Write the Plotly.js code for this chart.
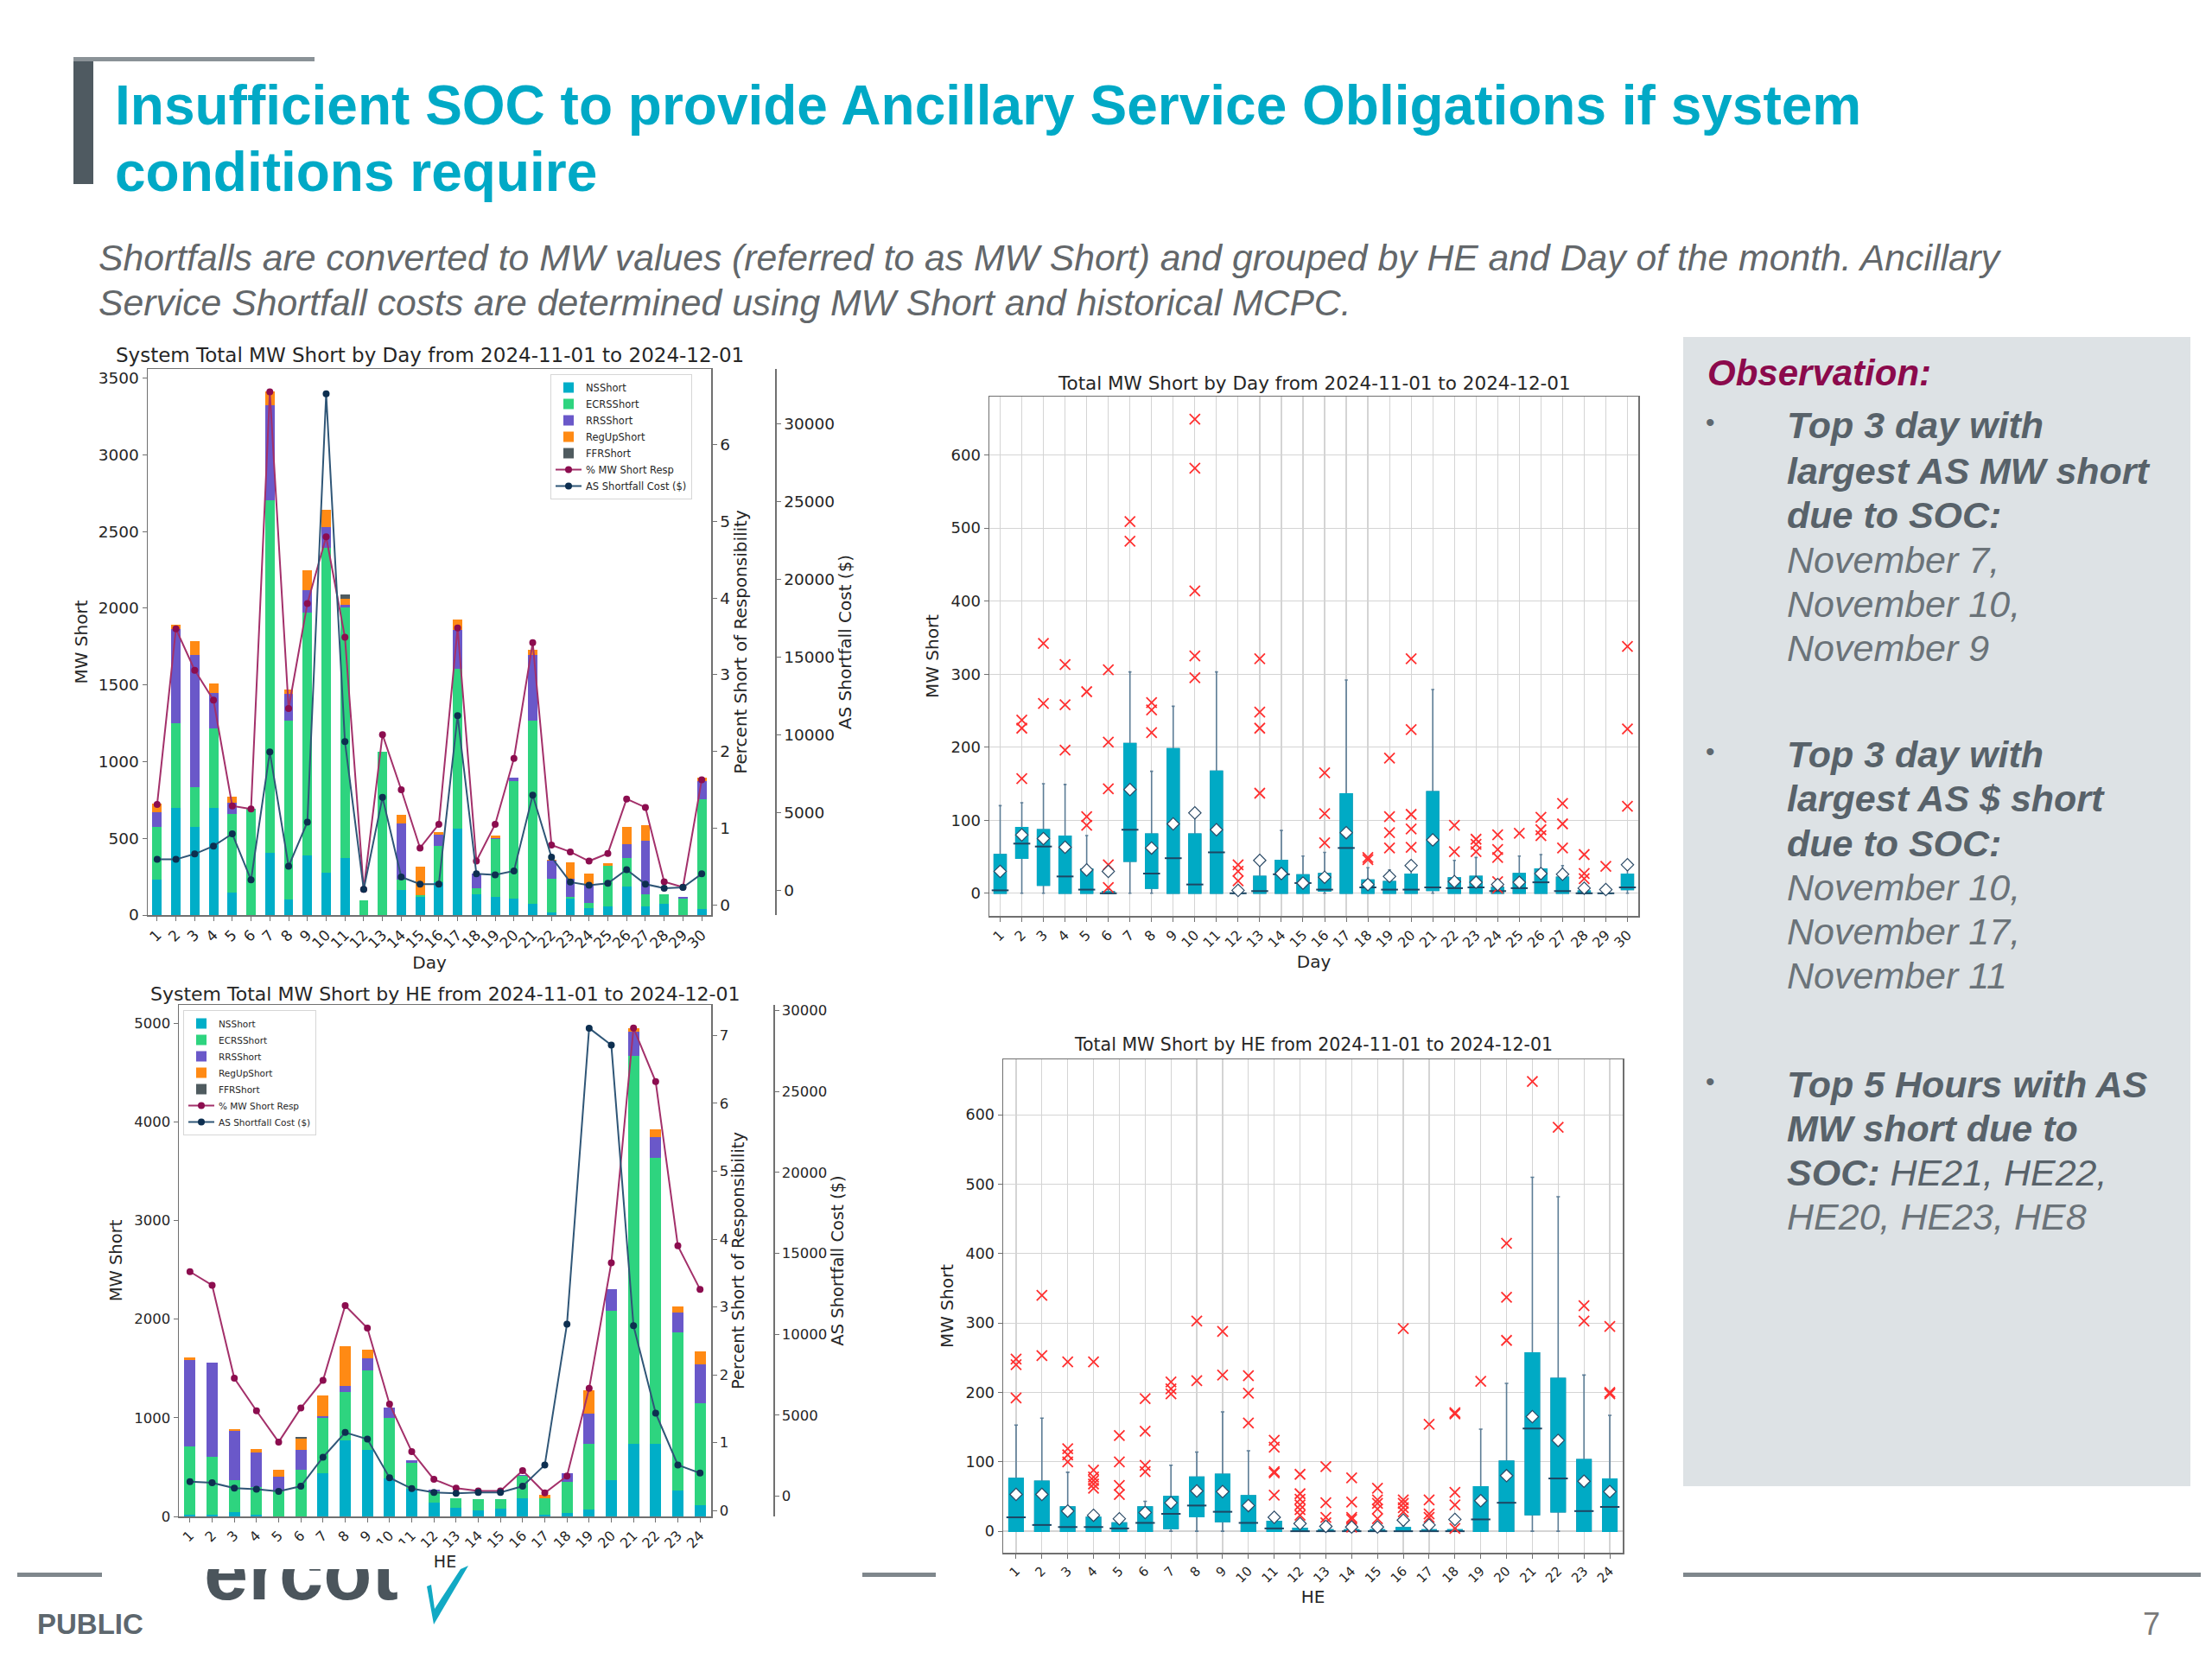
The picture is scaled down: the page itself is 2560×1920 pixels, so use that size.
<!DOCTYPE html>
<html><head><meta charset="utf-8">
<script src="https://cdn.plot.ly/plotly-3.0.1.min.js"></script>
<style>html,body{margin:0;padding:0;background:#fff}#chart{width:2560px;height:1920px}</style>
</head><body><div id="chart"></div>
<script>
// ---------- DATA: by Day ----------
const days = [1,2,3,4,5,6,7,8,9,10,11,12,13,14,15,16,17,18,19,20,21,22,23,24,25,26,27,28,29,30];
const dayNS    = [229,700,573,700,148,0,404,100,390,277,369,0,0,162,121,215,565,135,116,108,73,19,108,46,54,188,54,73,0,40];
const dayECRS  = [344,552,262,517,512,692,2302,1165,1583,2119,1636,94,1063,67,6,235,1042,40,377,767,1192,215,13,35,269,181,81,62,108,714];
const dayRRS   = [100,614,861,232,72,0,619,175,146,135,15,0,0,369,0,75,251,94,10,19,431,121,113,116,0,94,350,0,13,121];
const dayRegUp = [52,24,89,59,41,0,86,33,129,113,40,0,0,54,191,13,67,0,14,0,33,8,108,72,14,110,99,0,0,19];
const dayFFR   = [0,0,0,0,0,0,0,0,0,0,30,0,0,0,0,0,0,0,0,0,0,0,0,0,0,0,0,0,0,0];
const dayPct   = [1.31,3.60,3.06,2.67,1.29,1.25,6.69,2.56,3.93,4.80,3.49,0.20,2.22,1.50,0.74,1.05,3.61,0.57,1.05,1.91,3.42,0.78,0.69,0.57,0.67,1.38,1.27,0.30,0.23,1.63];
const dayCost  = [1990,1990,2340,2850,3640,670,8900,1550,4390,31950,9570,60,5980,860,400,400,11240,1060,990,1250,6120,2130,530,330,450,1330,400,140,190,1060];

// ---------- DATA: by HE ----------
const hes = [1,2,3,4,5,6,7,8,9,10,11,12,13,14,15,16,17,18,19,20,21,22,23,24];
const heNS    = [20,20,47,20,0,0,439,773,675,384,282,137,86,59,78,188,20,31,71,365,737,737,267,118];
const heECRS  = [686,580,318,274,255,471,561,490,807,616,259,118,102,117,98,224,168,322,666,1721,3930,2898,1596,1027];
const heRRS   = [882,961,498,353,145,204,20,62,118,106,28,20,0,0,0,10,0,86,302,220,247,208,208,396];
const heRegUp = [20,0,19,39,71,117,204,400,94,0,0,0,0,0,0,0,28,0,236,0,35,79,58,134];
const heFFR   = [0,0,0,0,0,10,0,0,0,0,0,0,0,0,0,0,0,0,0,0,0,0,0,0];
const hePct   = [3.52,3.32,1.95,1.47,1.01,1.51,1.92,3.02,2.69,1.57,0.87,0.46,0.33,0.29,0.29,0.59,0.26,0.51,1.80,3.65,7.11,6.32,3.90,3.26];
const heCost  = [910,835,500,433,311,622,2413,3941,3533,1146,476,238,189,238,238,622,1938,10630,28900,27850,10530,5135,1938,1432];

// ---------- DATA: box stats by Day ----------
const dayQ1   = [0,48,11,0,0,0,44,7,0,0,0,0,0,0,0,3,0,0,0,0,4,0,0,0,0,0,0,0,0,5];
const dayMed  = [4,68,64,23,5,0,87,27,48,12,56,0,3,26,14,5,62,8,5,5,8,7,8,3,7,15,3,0,0,8];
const dayQ3   = [53,90,87,78,33,2,205,81,198,81,167,0,23,45,25,27,136,18,16,26,139,21,23,8,27,33,22,3,0,26];
const dayLo   = [0,0,0,0,0,0,0,0,0,0,0,0,0,0,0,0,0,0,0,0,0,0,0,0,0,0,0,0,0,0];
const dayHi   = [120,124,150,149,79,5,303,167,256,104,303,0,41,86,51,56,292,35,32,44,279,45,49,15,51,53,38,5,0,40];
const dayMean = [30,80,75,63,32,30,142,62,95,110,87,4,45,27,14,22,83,12,23,38,73,16,15,12,15,27,26,7,5,39];
const dayOutliers = [[],[237,226,157],[342,260],[313,258,196],[276,105,93],[306,207,143,39,8],[509,482],[261,251,220],[],[649,582,414,325,295],
  [],[39,30,17],[321,248,226,137],[],[],[165,109,69],[],[49,46],[185,105,83,62],[321,224,108,88,63],
  [],[93,57],[74,67,57],[80,60,49,16,7],[82],[104,87,79],[123,95,62],[53,27,20],[37],[338,225,119]];

// ---------- DATA: box stats by HE ----------
const heQ1   = [0,0,0,0,0,0,4,21,14,0,0,0,0,0,0,0,0,0,0,0,24,28,0,0];
const heMed  = [20,9,6,6,4,12,25,37,28,12,4,0,0,0,0,0,0,0,17,41,148,76,29,35];
const heQ3   = [76,72,35,20,12,35,50,78,82,51,14,4,2,2,2,5,2,2,64,101,257,220,103,75];
const heLo   = [0,0,0,0,0,0,0,0,0,0,0,0,0,0,0,0,0,0,0,0,0,0,0,0];
const heHi   = [153,163,85,27,16,43,95,114,172,116,18,6,4,4,4,8,4,4,147,213,510,482,225,167];
const heMean = [53,53,29,23,18,27,41,58,57,37,20,11,7,6,6,16,9,17,44,80,165,131,72,57];
const heOutliers = [[248,240,192],[340,253],[244,119,110,100],[244,88,78,73,68,62],[138,100,66,53],[191,144,95,86],[215,205,198],[303,217],[288,225],[224,199,156],
  [131,121,86,84,52],[82,54,46,38,31,23],[93,41,20,12],[77,42,20,17,6],[62,45,40,32,18],[292,45,40,34,28],[154,45,25,20],[171,169,56,38,4],[216],[415,337,275],
  [648],[582],[325,303],[295,200,198]];

const stackNames = ['NSShort','ECRSShort','RRSShort','RegUpShort','FFRShort'];

// ---------- STYLE ----------
const W = 2560, H = 1920;
const px = v => v / W, py = v => 1 - v / H;
const stackColors = ['#00aec8','#2ed47f','#6a58c9','#ff8a14','#4f5b5f'];
const pctColor = '#a3306a', pctMarker = '#8c0d4f';
const costColor = '#2f5677', costMarker = '#0d2f50';
const boxFill = '#00aac5';
const txt = '#262626';
const axLine = '#707070';
const FF = 'DejaVu Sans';

const traces = [];
function addStack(xa, ya, pos, stacks, legend) {
  stacks.forEach((arr, i) => traces.push({
    type: 'bar', x: pos, y: arr, name: stackNames[i], width: 0.5,
    marker: {color: stackColors[i], line: {width: 0}},
    xaxis: xa, yaxis: ya, legend: legend
  }));
}
function addLines(xa, yPct, yCost, pos, pct, cost, legend) {
  traces.push({type: 'scatter', mode: 'lines+markers', x: pos, y: pct, name: '% MW Short Resp',
    line: {color: pctColor, width: 2}, marker: {color: pctMarker, size: 8}, xaxis: xa, yaxis: yPct, legend: legend});
  traces.push({type: 'scatter', mode: 'lines+markers', x: pos, y: cost, name: 'AS Shortfall Cost ($)',
    line: {color: costColor, width: 2}, marker: {color: costMarker, size: 8}, xaxis: xa, yaxis: yCost, legend: legend});
}
function addBoxes(xa, ya, pos, q1, med, q3, lo, hi, mean, outs, medSize) {
  traces.push({type: 'box', orientation: 'v', x: pos, q1: q1, median: med, q3: q3, lowerfence: lo, upperfence: hi,
    width: 0.55, fillcolor: boxFill, line: {color: '#5d7d96', width: 1.6}, whiskerwidth: 0.25,
    boxpoints: false, showlegend: false, xaxis: xa, yaxis: ya, hoverinfo: 'skip'});
  traces.push({type: 'box', orientation: 'v', x: pos, q1: q1, median: med, q3: q3, lowerfence: q1, upperfence: q3,
    width: 0.55, fillcolor: boxFill, line: {color: boxFill, width: 1.6}, whiskerwidth: 0,
    boxpoints: false, showlegend: false, xaxis: xa, yaxis: ya, hoverinfo: 'skip'});
  traces.push({type: 'scatter', mode: 'markers', x: pos, y: med, showlegend: false, xaxis: xa, yaxis: ya,
    marker: {symbol: 'line-ew', size: medSize, line: {color: '#1e4663', width: 2}}});
  const ox = [], oy = [];
  outs.forEach((list, i) => list.forEach(v => { ox.push(pos[i]); oy.push(v); }));
  traces.push({type: 'scatter', mode: 'markers', x: ox, y: oy, showlegend: false, xaxis: xa, yaxis: ya,
    marker: {symbol: 'x-thin', size: 12, color: '#ff3030', line: {color: '#ff3030', width: 1.8}}});
  traces.push({type: 'scatter', mode: 'markers', x: pos, y: mean, showlegend: false, xaxis: xa, yaxis: ya,
    marker: {symbol: 'diamond', size: 11, color: '#ffffff', line: {color: '#2b4a66', width: 1.2}}});
}

addStack('x', 'y', days, [dayNS, dayECRS, dayRRS, dayRegUp, dayFFR], 'legend');
addLines('x', 'y2', 'y3', days, dayPct, dayCost, 'legend');
addBoxes('x2', 'y4', days, dayQ1, dayMed, dayQ3, dayLo, dayHi, dayMean, dayOutliers, 14);
addStack('x3', 'y5', hes, [heNS, heECRS, heRRS, heRegUp, heFFR], 'legend2');
addLines('x3', 'y6', 'y7', hes, hePct, heCost, 'legend2');
addBoxes('x4', 'y8', hes, heQ1, heMed, heQ3, heLo, heHi, heMean, heOutliers, 16);
// logo word placed on a hidden pixel-space subplot so its top can be masked like the reference
traces.push({type: 'scatter', mode: 'text', x: [236], y: [1828], text: ['<b>ercot</b>'], textposition: 'middle right',
  textfont: {family: 'Liberation Sans, Arial, sans-serif', size: 92, color: '#4b555c'}, showlegend: false, xaxis: 'x5', yaxis: 'y9', hoverinfo: 'skip'});

function xAx(d, rng, vals, title, tsize, lsize, grid, standoff) {
  const t = {text: title, font: {family: FF, size: lsize, color: txt}};
  if (standoff !== undefined) t.standoff = standoff;
  return {domain: d, range: rng, tickvals: vals, ticktext: vals.map(String), tickangle: -45,
    tickfont: {family: FF, size: tsize, color: txt}, ticks: 'outside', ticklen: 5, tickcolor: axLine,
    showline: true, linecolor: axLine, linewidth: 1.5, mirror: true, zeroline: false,
    showgrid: grid, gridcolor: '#d4d4d4', gridwidth: 1.2, automargin: false, title: t};
}
function yAx(extra, tsize, lsize, title, standoff) {
  const t = {text: title, font: {family: FF, size: lsize, color: txt}};
  if (standoff !== undefined) t.standoff = standoff;
  return Object.assign({tickfont: {family: FF, size: tsize, color: txt}, ticks: 'outside', ticklen: 5, tickcolor: axLine,
    showline: true, linecolor: axLine, linewidth: 1.5, zeroline: false, showgrid: false, automargin: false,
    tickformat: 'd', title: t}, extra);
}

const layout = {
  width: W, height: H, margin: {l: 0, r: 0, t: 0, b: 0}, paper_bgcolor: '#ffffff', plot_bgcolor: 'rgba(0,0,0,0)',
  barmode: 'stack', boxmode: 'overlay', font: {family: FF, color: txt},
  // top-left
  xaxis: xAx([px(171), px(823)], [0.5, 30.5], days, 'Day', 17, 20, false, 1),
  yaxis: yAx({domain: [py(1059), py(427)], range: [0, 3560], dtick: 500, anchor: 'x'}, 18.5, 20, 'MW Short', 6),
  yaxis2: yAx({overlaying: 'y', side: 'right', anchor: 'x', range: [-0.134, 6.99], dtick: 1, tick0: 0}, 18.5, 20, 'Percent Short of Responsibility', 2),
  yaxis3: yAx({overlaying: 'y', side: 'right', anchor: 'free', position: px(897), range: [-1590, 33550], dtick: 5000, tick0: 0}, 18.5, 20, 'AS Shortfall Cost ($)', 6),
  // top-right
  xaxis2: Object.assign(xAx([px(1145), px(1896)], [0.5, 30.5], days, 'Day', 16, 20, true, 1), {anchor: 'y4'}),
  yaxis4: yAx({domain: [py(1060), py(459)], range: [-31, 680], dtick: 100, tick0: 0, anchor: 'x2', mirror: true, showgrid: true, gridcolor: '#d4d4d4', gridwidth: 1.2}, 18, 20, 'MW Short', 8),
  // bottom-left
  xaxis3: Object.assign(xAx([px(207), px(823)], [0.5, 24.5], hes, 'HE', 16, 19, false, 3), {anchor: 'y5'}),
  yaxis5: yAx({domain: [py(1755), py(1163)], range: [0, 5184], dtick: 1000, anchor: 'x3'}, 16.5, 19.5, 'MW Short', 8),
  yaxis6: yAx({overlaying: 'y5', side: 'right', anchor: 'x3', range: [-0.086, 7.45], dtick: 1, tick0: 0}, 16.5, 19.5, 'Percent Short of Responsibility', 2),
  yaxis7: yAx({overlaying: 'y5', side: 'right', anchor: 'free', position: px(895), range: [-1242, 30334], dtick: 5000, tick0: 0}, 16.5, 19.5, 'AS Shortfall Cost ($)', 6),
  // bottom-right
  xaxis4: Object.assign(xAx([px(1161), px(1878)], [0.5, 24.5], hes, 'HE', 15, 20, true, 1), {anchor: 'y8'}),
  yaxis8: yAx({domain: [py(1797), py(1226)], range: [-31, 680], dtick: 100, tick0: 0, anchor: 'x4', mirror: true, showgrid: true, gridcolor: '#d4d4d4', gridwidth: 1.2}, 17.5, 20, 'MW Short', 8),
  // hidden pixel-space subplot for the logo
  xaxis5: {domain: [0, 1], range: [0, W], visible: false, anchor: 'y9', fixedrange: true},
  yaxis9: {domain: [0, 1], range: [H, 0], visible: false, anchor: 'x5', fixedrange: true},
  legend: {x: px(637), y: py(433), xanchor: 'left', yanchor: 'top', traceorder: 'normal', bgcolor: 'rgba(255,255,255,0.92)',
    bordercolor: '#d6d6d6', borderwidth: 1, font: {family: FF, size: 11.5, color: txt}, tracegroupgap: 0},
  legend2: {x: px(212), y: py(1169), xanchor: 'left', yanchor: 'top', traceorder: 'normal', bgcolor: 'rgba(255,255,255,0.92)',
    bordercolor: '#d6d6d6', borderwidth: 1, font: {family: FF, size: 10.5, color: txt}, tracegroupgap: 0},
  shapes: [], annotations: []
};

const S = layout.shapes, A = layout.annotations;
function rect(x0, y0, x1, y1, color, layer) {
  S.push({type: 'rect', xref: 'paper', yref: 'paper', x0: px(x0), x1: px(x1), y0: py(y1), y1: py(y0),
    fillcolor: color, line: {width: 0}, layer: layer || 'below'});
}
function note(text, x, y, size, color, opts) {
  A.push(Object.assign({text: text, x: px(x), y: py(y), xref: 'paper', yref: 'paper', xanchor: 'left', yanchor: 'middle',
    showarrow: false, font: {family: 'Liberation Sans, Arial, sans-serif', size: size, color: color}}, opts || {}));
}
// slide decorations
rect(85, 66, 108, 213, '#4f5a61');
rect(85, 66, 364, 71, '#8a9297');
rect(1948, 390, 2535, 1720, '#dde2e5');
rect(20, 1820, 118, 1825, '#7f878c');
rect(998, 1820, 1083, 1825, '#7f878c');
rect(1948, 1820, 2547, 1825, '#7f878c');
rect(228, 1786, 478, 1816, '#ffffff', 'above');   // chart image edge covering the logo top
const P = (x, y) => px(x) + ',' + py(y);
S.push({type: 'path', xref: 'paper', yref: 'paper', fillcolor: '#12a9c4', line: {width: 0}, layer: 'below',
  path: 'M' + P(494, 1836) + ' L' + P(502, 1880) + ' L' + P(542, 1812) + ' L' + P(533, 1816) + ' L' + P(503, 1862) + ' L' + P(499, 1834) + ' Z'});

// slide text
note('<b>Insufficient SOC to provide Ancillary Service Obligations if system</b>', 131, 122, 64, '#00a9c6');
note('<b>conditions require</b>', 131, 199, 64, '#00a9c6');
note('<i>Shortfalls are converted to MW values (referred to as MW Short) and grouped by HE and Day of the month. Ancillary</i>', 112, 298, 42.7, '#63676a');
note('<i>Service Shortfall costs are determined using MW Short and historical MCPC.</i>', 112, 350, 42.7, '#63676a');

note('<b><i>Observation:</i></b>', 1974, 432, 42, '#8b0a4c');
const bold = '#58626a', reg = '#6b7379';
[[492, '<b><i>Top 3 day with</i></b>', bold], [545, '<b><i>largest AS MW short</i></b>', bold], [596, '<b><i>due to SOC:</i></b>', bold],
 [648, '<i>November 7,</i>', reg], [699, '<i>November 10,</i>', reg], [750, '<i>November 9</i>', reg],
 [873, '<b><i>Top 3 day with</i></b>', bold], [924, '<b><i>largest AS $ short</i></b>', bold], [976, '<b><i>due to SOC:</i></b>', bold],
 [1027, '<i>November 10,</i>', reg], [1078, '<i>November 17,</i>', reg], [1129, '<i>November 11</i>', reg],
 [1255, '<b><i>Top 5 Hours with AS</i></b>', bold], [1306, '<b><i>MW short due to</i></b>', bold],
 [1357, '<i><b>SOC:</b></i><i> HE21, HE22,</i>', bold], [1408, '<i>HE20, HE23, HE8</i>', reg]
].forEach(r => note(r[1], 2066, r[0], 43, r[2]));
[492, 873, 1255].forEach(y => note('•', 1972, y - 4, 30, '#5e686f'));

note('<b>PUBLIC</b>', 41, 1879, 33, '#5d676e');
note('7', 2478, 1879, 36, '#7a7a7a');

// chart titles
const ctitle = (t, x, y, s) => A.push({text: t, x: px(x), y: py(y), xref: 'paper', yref: 'paper', xanchor: 'center', yanchor: 'middle',
  showarrow: false, font: {family: FF, size: s, color: txt}});
ctitle('System Total MW Short by Day from 2024-11-01 to 2024-12-01', 497, 411, 23);
ctitle('Total MW Short by Day from 2024-11-01 to 2024-12-01', 1521, 443, 21.5);
ctitle('System Total MW Short by HE from 2024-11-01 to 2024-12-01', 515, 1150, 22);
ctitle('Total MW Short by HE from 2024-11-01 to 2024-12-01', 1520, 1209, 20.5);

Plotly.newPlot('chart', traces, layout, {displayModeBar: false, staticPlot: true});
</script></body></html>
